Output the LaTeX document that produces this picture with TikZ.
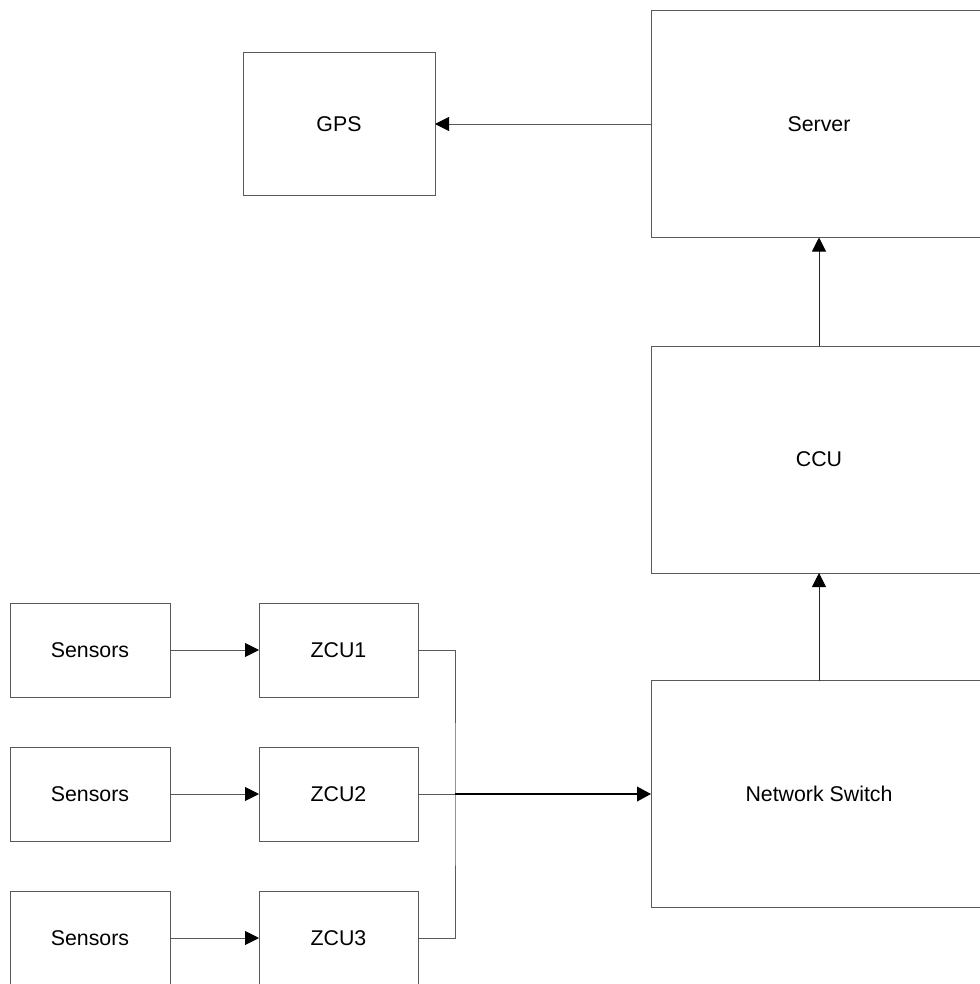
\documentclass[tikz,border=0pt]{standalone}
\usepackage{fontspec}
\setmainfont{Liberation Sans}
\usetikzlibrary{positioning,arrows.meta,calc}
\tikzset{
  unit/.style={draw=black!65, line width=0.7pt, fill=white, align=center,
    font=\fontsize{16}{19}\selectfont},
  small/.style={unit, minimum width=0.75*160, minimum height=0.75*94},
  big/.style={unit, minimum width=0.75*336, minimum height=0.75*227},
  link/.style={draw=black!65, line width=0.7pt},
  flow/.style={link, -{Triangle[length=10.5, width=10.5, black]}},
  trunk/.style={draw=black, line width=1.3pt, -{Triangle[length=10.5, width=11, black]}}
}

\begin{document}
\begin{tikzpicture}[x=0.75pt, y=-0.75pt, inner sep=0pt, outer sep=0pt]
    \useasboundingbox (0,0) rectangle (979,984);

    \node[unit, minimum width=0.75*192, minimum height=0.75*143] (gps) at (339,124) {GPS};
    \node[big] (server) at (819,124) {Server};
    \node[big] (ccu) at (819,459.5) {CCU};
    \node[big] (switch) at (819,794) {Network Switch};

    \node[small] (sens1) at (90,650) {Sensors};
    \node[small] (sens2) at (90,794) {Sensors};
    \node[small] (sens3) at (90,938) {Sensors};
    \node[small, minimum width=0.75*159] (zcu1) at (338.5,650) {ZCU1};
    \node[small, minimum width=0.75*159] (zcu2) at (338.5,794) {ZCU2};
    \node[small, minimum width=0.75*159] (zcu3) at (338.5,938) {ZCU3};
    \coordinate (bus) at (455,794);

    \draw[flow] (sens1) -- (zcu1);
    \draw[flow] (sens2) -- (zcu2);
    \draw[flow] (sens3) -- (zcu3);

    \draw[link] (zcu1.east) -| (bus) |- (zcu3.east);
    \draw[link] (zcu2.east) -- (bus);
    \draw[trunk] (bus) -- (bus -| switch.west);

    \draw[flow, draw=black!85] (switch) -- (ccu);
    \draw[flow, draw=black!85] (ccu) -- (server);
    \draw[flow] (server) -- (gps);
\end{tikzpicture}
\end{document}
